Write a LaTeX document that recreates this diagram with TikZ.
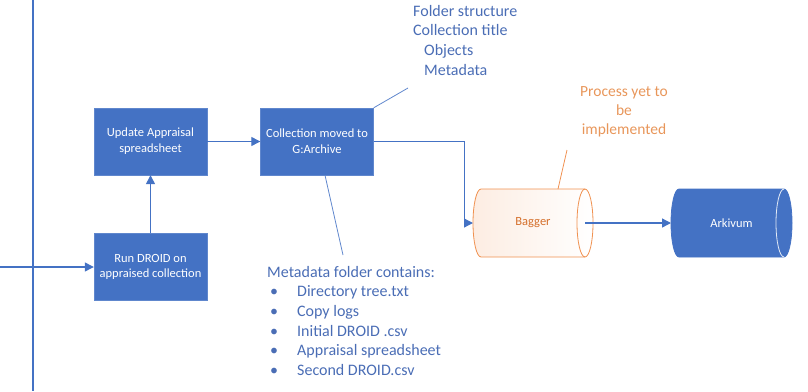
\documentclass[tikz,border=0pt]{standalone}
\usepackage{fontspec}
\setmainfont{Carlito}
\usetikzlibrary{arrows.meta,backgrounds}
\definecolor{bleu}{HTML}{4472C4}
\definecolor{bleutexte}{HTML}{4A6DB5}
\definecolor{orangeb}{HTML}{ED7D31}
\definecolor{orangetexte}{HTML}{E8965A}

\begin{document}
\begin{tikzpicture}[x=1pt,y=-1pt,
  boite/.style={rectangle,fill=bleu,draw=bleu!85!white,text=white,
    minimum width=113pt,minimum height=67pt,align=center,
    font=\fontsize{12.5}{15.7}\selectfont},
  fleche/.style={draw=bleu,line width=1.3pt,-{Triangle[length=9pt,width=9pt]}},
  ligne/.style={draw=bleu!85!white,line width=0.8pt},
  note/.style={text=bleutexte,align=left,inner sep=0pt,
    font=\fontsize{16}{19.6}\selectfont},
  cylboite/.style={rectangle,minimum width=120pt,minimum height=68pt,
    outer sep=0pt,font=\fontsize{12.5}{15.5}\selectfont},
  bout/.style={x radius=8pt,y radius=34pt}]
\def\puce{\makebox[30pt][l]{\hspace{3pt}\textbullet}}
\useasboundingbox (0,0) rectangle (808,391);

% Ligne verticale et entree
\coordinate (haut) at (33,0);
\coordinate (bas) at (33,391);
\coordinate (entree) at (0,267);
\draw[draw=bleu,line width=1.5pt] (haut) -- (bas);

% Etapes
\node[boite] (droid) at (150.5,267) {Run DROID on\\appraised collection};
\node[boite] (maj) at (150.5,141.5) {Update Appraisal\\spreadsheet};
\node[boite] (coll) at (317,141.5) {Collection moved to\\G:Archive};

% Cylindres
\node[cylboite,text=orangeb!90!black] (bagger) at (533,223) {Bagger};
\node[cylboite,minimum width=121pt,text=white] (arkivum) at (731.5,223) {Arkivum};
\begin{scope}[on background layer]
\draw[orangeb!85!white,line width=0.8pt,left color=orangeb!14,right color=white]
  ([xshift=8pt]bagger.north west) -- ([xshift=-8pt]bagger.north east)
  arc[bout,start angle=90,end angle=-90] -- ([xshift=8pt]bagger.south west)
  arc[bout,start angle=270,end angle=90] -- cycle;
\draw[orangeb!85!white,line width=0.8pt] ([xshift=-8pt]bagger.north east)
  arc[bout,start angle=90,end angle=270];
\filldraw[bleu,line width=0.8pt]
  ([xshift=8pt]arkivum.north west) -- ([xshift=-8pt]arkivum.north east)
  arc[bout,start angle=90,end angle=-90] -- ([xshift=8pt]arkivum.south west)
  arc[bout,start angle=270,end angle=90] -- cycle;
\draw[white!85!bleu,line width=0.8pt] ([xshift=-8pt]arkivum.north east)
  arc[bout,start angle=90,end angle=270];
\end{scope}

% Fleches
\draw[fleche] (entree) -- (droid.west);
\draw[fleche] (droid.north) -- (maj.south);
\draw[fleche] (maj.east) -- (coll.west);
\draw[fleche] (coll.east) -- ++(91,0) |- (bagger.west);
\draw[fleche] ([xshift=-8pt]bagger.east) -- (arkivum.west);

% Notes
\node[note,anchor=north west] (dossiers) at (413,5)
  {Folder structure\\Collection title\\\hspace*{11pt}Objects\\\hspace*{11pt}Metadata};
\node[note,anchor=north west] (meta) at (267,266)
  {Metadata folder contains:\\\puce Directory tree.txt\\\puce Copy logs\\
   \puce Initial DROID .csv\\\puce Appraisal spreadsheet\\\puce Second DROID.csv};
\node[note,text=orangetexte,align=center,anchor=north,
  font=\fontsize{15.5}{19}\selectfont] (process) at (624,86)
  {Process yet to\\be\\implemented};
\coordinate (pied1) at (408,88);
\coordinate (pied2) at (343,255);
\coordinate (pied3) at (567,150);
\draw[ligne] (coll.north east) -- (pied1);
\draw[ligne] ([xshift=8pt]coll.south) -- (pied2);
\draw[ligne,draw=orangeb!85!white] ([xshift=25pt]bagger.north) -- (pied3);

\end{tikzpicture}
\end{document}
